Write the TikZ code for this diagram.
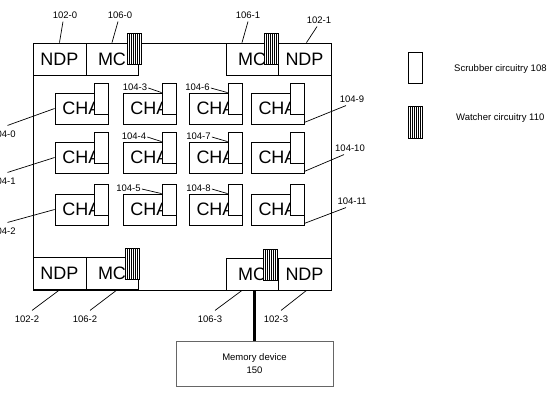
\documentclass[tikz,border=0pt]{standalone}
\usepackage{fontspec}
\setmainfont{Liberation Sans}
\usetikzlibrary{calc,positioning}

\tikzset{
  part/.style={draw, line width=0.8pt, inner sep=0pt, font=\fontsize{18}{20}\selectfont},
  ndp/.style={part, minimum width=53pt, minimum height=32pt},
  mc/.style={part, minimum width=52pt, minimum height=32pt},
  cha/.style={part, fill=white, minimum width=53pt, minimum height=31pt},
  scrub/.style={draw, line width=0.8pt, fill=white, inner sep=0pt,
    minimum width=14pt, minimum height=31pt},
  watch/.style={scrub, path picture={
    \foreach \k in {1,...,6}
      \draw[line width=0.5pt]
        ($(path picture bounding box.south west)!\k/7!(path picture bounding box.south east)$) --
        ($(path picture bounding box.north west)!\k/7!(path picture bounding box.north east)$);}},
  lbl/.style={font=\fontsize{9.5}{11}\selectfont, inner sep=1pt},
  lead/.style={line width=0.7pt}
}

\begin{document}
\begin{tikzpicture}[x=1pt, y=-1pt]
  \useasboundingbox (0,0) rectangle (559,400);

  % die outline
  \node[draw, line width=0.8pt, inner sep=0pt, minimum width=298pt, minimum height=247pt] (chip) at (182,166.5) {};

  % corner NDPs and MCs
  \node[ndp] (ndp0) at (59.5,59) {NDP};
  \node[mc]  (mc0)  at (112,59) {MC};
  \node[mc]  (mc1)  at (252,59) {MC};
  \node[ndp] (ndp1) at (304.5,59) {NDP};
  \node[ndp] (ndp2) at (59.5,273.5) {NDP};
  \node[mc]  (mc2)  at (112,273.5) {MC};
  \node[mc]  (mc3)  at (252,274) {MC};
  \node[ndp] (ndp3) at (304.5,274) {NDP};

  % watchers
  \node[watch] (w0) at (134,48.5) {};
  \node[watch] (w1) at (271.5,49) {};
  \node[watch] (w2) at (132,264) {};
  \node[watch] (w3) at (270,265) {};

  % CHA grid with scrubbers
  \foreach \c/\x in {0/81.5,1/149.5,2/215.5,3/277.5}
    \foreach \r/\y in {0/108.5,1/157.5,2/209.5} {
      \pgfmathtruncatemacro\n{3*\c+\r}
      \node[cha] (cha\n) at (\x,\y) {CHA};
      \node[scrub, anchor=north east] (s\n) at ([yshift=10pt]cha\n.north east) {};
    }

  % memory device
  \node[draw=black!60, line width=0.8pt, minimum width=157pt, minimum height=45pt,
    align=center, font=\fontsize{9.5}{13}\selectfont] (mem) at (254.5,363.5) {Memory device\\150};
  \draw[line width=2.5pt] (mem.north) -- (mem.north |- mc3.south);

  % top labels
  \node[lbl] (t0) at (65,15) {102-0};
  \node[lbl] (t1) at (120,15) {106-0};
  \node[lbl] (t2) at (248,15) {106-1};
  \node[lbl] (t3) at (319,20) {102-1};
  \draw[lead] ([xshift=-2pt,yshift=-2pt]t0.south) -- (ndp0.north);
  \draw[lead] ([xshift=-2pt,yshift=-2pt]t1.south) -- (mc0.north);
  \draw[lead] ([yshift=-2pt]t2.south) -- ([xshift=-10pt]mc1.north);
  \draw[lead] ([xshift=-2pt,yshift=-2pt]t3.south) -- ([xshift=2pt]ndp1.north);

  % bottom labels
  \node[lbl] (b0) at (27,319) {102-2};
  \node[lbl] (b1) at (85,319) {106-2};
  \node[lbl] (b2) at (210,319) {106-3};
  \node[lbl] (b3) at (276,319) {102-3};
  \draw[lead] ([xshift=5pt,yshift=4pt]b0.north) -- (ndp2.south);
  \draw[lead] ([xshift=5pt,yshift=4pt]b1.north) -- ([xshift=5pt]mc2.south);
  \draw[lead] ([xshift=5pt,yshift=4pt]b2.north) -- ([xshift=-10pt]mc3.south);
  \draw[lead] ([xshift=5pt,yshift=4pt]b3.north) -- ([xshift=2pt]ndp3.south);

  % CHA labels, left column
  \node[lbl] (l0) at (3.5,134) {104-0};
  \node[lbl] (l1) at (3.5,181) {104-1};
  \node[lbl] (l2) at (3.5,231) {104-2};
  \foreach \n in {0,1,2}
    \draw[lead] ([xshift=4pt,yshift=4pt]l\n.north) -- (cha\n.west);

  % CHA labels, middle columns
  \node[lbl] (l3) at (135,87) {104-3};
  \node[lbl] (l4) at (134,136) {104-4};
  \node[lbl] (l5) at (128.5,188) {104-5};
  \node[lbl] (l6) at (197.5,87) {104-6};
  \node[lbl] (l7) at (198.5,136) {104-7};
  \node[lbl] (l8) at (198.5,188) {104-8};
  \foreach \n in {3,...,8}
    \draw[lead] ([yshift=-1pt]l\n.east) -- (s\n.west |- cha\n.north);

  % CHA labels, right column
  \node[lbl] (l9) at (352,99) {104-9};
  \node[lbl] (l10) at (350,148) {104-10};
  \node[lbl] (l11) at (352,201) {104-11};
  \foreach \n in {9,10,11}
    \draw[lead] ([xshift=-6pt,yshift=-2pt]l\n.south) -- ([yshift=2pt]cha\n.south east);

  % legend
  \node[scrub, minimum height=31pt] (key0) at (415,67.5) {};
  \node[lbl, anchor=west] (k0) at (453,69) {Scrubber circuitry 108};
  \node[watch, minimum height=32pt] (key1) at (415.5,122) {};
  \node[lbl, anchor=west] (k1) at (455,118) {Watcher circuitry 110};
\end{tikzpicture}
\end{document}
